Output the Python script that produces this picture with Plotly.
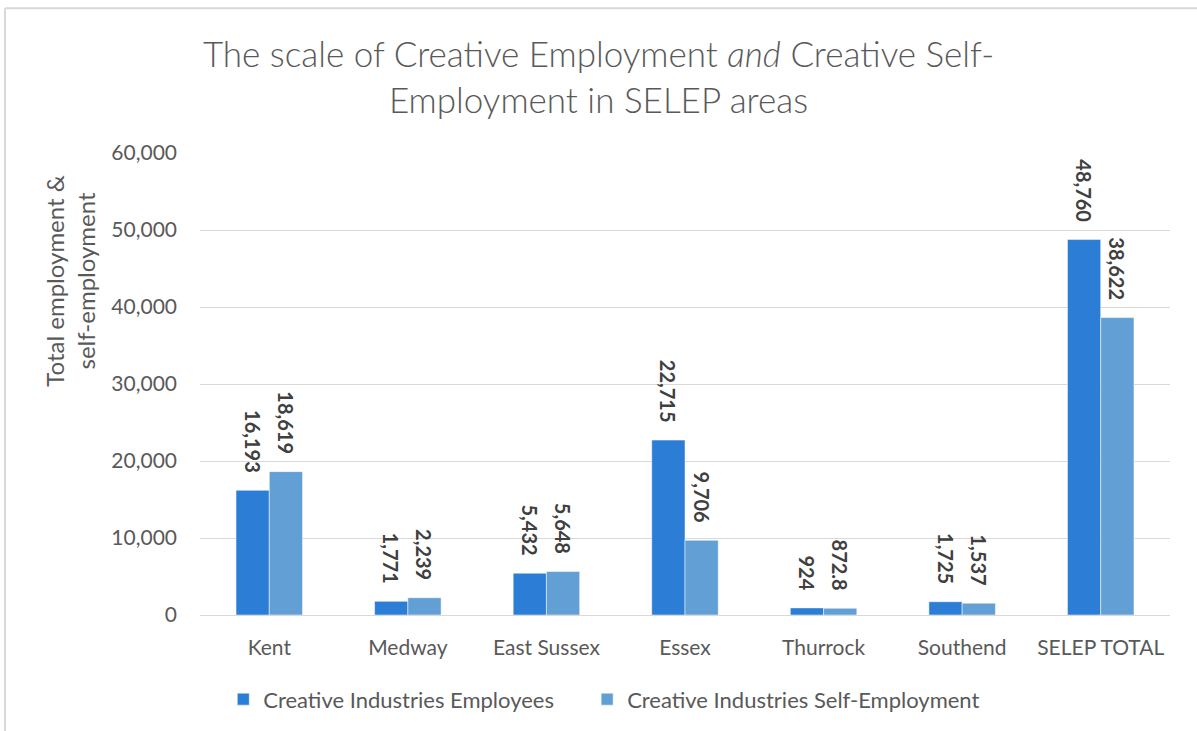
import plotly.graph_objects as go

categories = ["Kent", "Medway", "East Sussex", "Essex", "Thurrock", "Southend", "SELEP TOTAL"]
employees = [16193, 1771, 5432, 22715, 924, 1725, 48760]
self_employment = [18619, 2239, 5648, 9706, 872.8, 1537, 38622]
y_ticks = [0, 10000, 20000, 30000, 40000, 50000, 60000]
series_names = ["Creative Industries Employees", "Creative Industries Self-Employment"]


def fmt(v):
    return f"{v:,.0f}" if float(v).is_integer() else f"{v:,}"


FONT = "Lato"
GREY = "#595959"
LABEL = "#404040"
PAD = "\u00a0\u00a0\u00a0"
LEG_PAD = ["\u00a0" * 5, ""]

fig = go.Figure()
for name, vals, col, lp in [(series_names[0], employees, "#2B7DD6", LEG_PAD[0]),
                            (series_names[1], self_employment, "#629FD5", LEG_PAD[1])]:
    fig.add_trace(go.Bar(
        x=categories, y=vals, name=name + lp,
        marker=dict(color=col, line=dict(color="rgba(255,255,255,0.5)", width=1)),
        text=[fmt(v) + PAD for v in vals], textposition="outside", textangle=90,
        textfont=dict(family=FONT, size=20, color=LABEL, weight="bold"),
        cliponaxis=False,
    ))

fig.update_layout(
    width=1197, height=731,
    margin=dict(l=200, r=27, t=153, b=115),
    paper_bgcolor="white", plot_bgcolor="white",
    barmode="group", bargap=0.52, bargroupgap=0,
    uniformtext=dict(minsize=20, mode="show"),
    font=dict(family=FONT, color=GREY),
    title=dict(
        text="The scale of Creative Employment <i>and</i> Creative Self-<br>Employment in SELEP areas",
        x=0.5, xanchor="center", xref="container",
        y=1 - 67 / 731, yanchor="middle", yref="container",
        font=dict(family=FONT, size=35, color=GREY, weight=300),
    ),
    xaxis=dict(
        tickfont=dict(family=FONT, size=21, color=GREY),
        showgrid=False, showline=False, ticks="", ticklabelstandoff=18,
    ),
    yaxis=dict(
        range=[0, 60000], tickvals=y_ticks, tickformat=",",
        tickfont=dict(family=FONT, size=21, color=GREY),
        showgrid=True, gridcolor="#d9d9d9", gridwidth=1,
        zeroline=True, zerolinecolor="#d9d9d9", zerolinewidth=1,
        showline=False, ticks="", ticklabelstandoff=22,
    ),
    legend=dict(
        orientation="h", x=0.024, xanchor="left", y=-0.18, yanchor="middle",
        font=dict(family=FONT, size=22, color=GREY),
        itemwidth=30, tracegroupgap=0,
    ),
    showlegend=True,
)

fig.add_annotation(
    text="Total employment &<br>self-employment", textangle=-90,
    xref="paper", yref="paper", x=(70 - 200) / 970, y=(616 - 281) / 463,
    xanchor="center", yanchor="middle", showarrow=False,
    font=dict(family=FONT, size=24, color=GREY),
)

# chart-area border (left and top edges visible)
x_left = (5 - 200) / 970
y_top = (616 - 8) / 463
fig.add_shape(type="line", xref="paper", yref="paper", x0=x_left, x1=x_left,
              y0=-0.5, y1=y_top, line=dict(color="#d9d9d9", width=2))
fig.add_shape(type="line", xref="paper", yref="paper", x0=x_left, x1=1.1,
              y0=y_top, y1=y_top, line=dict(color="#d9d9d9", width=2))

fig.write_html("out.html", config={"displayModeBar": False},
               post_script="document.body.style.margin='0';")
